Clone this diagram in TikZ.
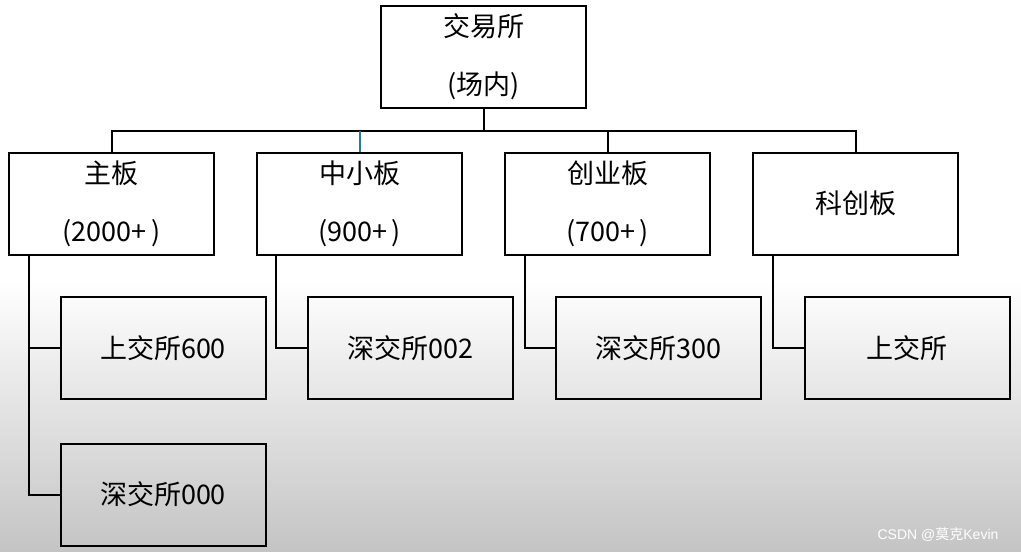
\documentclass[tikz,border=0pt]{standalone}
\usepackage{fontspec}
\setmainfont{Noto Sans CJK SC}
\newfontfamily\wmfont{Liberation Sans}
\newfontfamily\wmcjk{Noto Sans CJK SC}
\definecolor{bgbottom}{RGB}{196,196,196}
\definecolor{linkteal}{RGB}{40,120,150}
\tikzset{
	box/.style={draw, line width=2pt, minimum width=205pt, minimum height=102pt, inner sep=0pt, align=center, font=\fontsize{27}{58}\selectfont},
	link/.style={line width=2pt}
}
\begin{document}
\begin{tikzpicture}[x=1pt,y=-1pt]
		% background
		\useasboundingbox (0,0) rectangle (1021,552);
		\fill [white] (0,0) rectangle (1021,280);
		\shade [top color=white, bottom color=bgbottom] (0,280) rectangle (1021,552);
		
		\node [box] (jys) at (483.5,57) {交易所\\(场内)};
		
		\node [box] (zb) at (111.5,203.5) {主板\\(2000+\,)};
		\node [box] (zxb) at (359.5,203.5) {中小板\\(900+\,)};
		\node [box] (cyb) at (607.5,203.5) {创业板\\(700+\,)};
		\node [box] (kcb) at (855.5,203.5) {科创板};
		
		\node [box] (sh600) at (163,348) {上交所600};
		\node [box] (sz000) at (163,494.5) {深交所000};
		\node [box] (sz002) at (410.5,348) {深交所002};
		\node [box] (sz300) at (658.5,348) {深交所300};
		\node [box] (shkc) at (907,348) {上交所};
		
		\draw [link] (jys.south) -- ++(0,22) coordinate (bus);
		\draw [link] (zb.north) |- (bus) -| (kcb.north);
		\draw [link, linkteal] (zxb.north) -- (zxb.north |- bus);
		\draw [link] (cyb.north) -- (cyb.north |- bus);
		
		\draw [link] ([xshift=21]zb.south west) |- (sh600.west);
		\draw [link] ([xshift=21]zb.south west) |- (sz000.west);
		\draw [link] ([xshift=20]zxb.south west) |- (sz002.west);
		\draw [link] ([xshift=21]cyb.south west) |- (sz300.west);
		\draw [link] ([xshift=21]kcb.south west) |- (shkc.west);
		
		\node [text=white, font=\fontsize{14}{14}\selectfont] (wm) at (938,535) {\wmfont CSDN @\wmcjk 莫克\wmfont Kevin};
\end{tikzpicture}
\end{document}
